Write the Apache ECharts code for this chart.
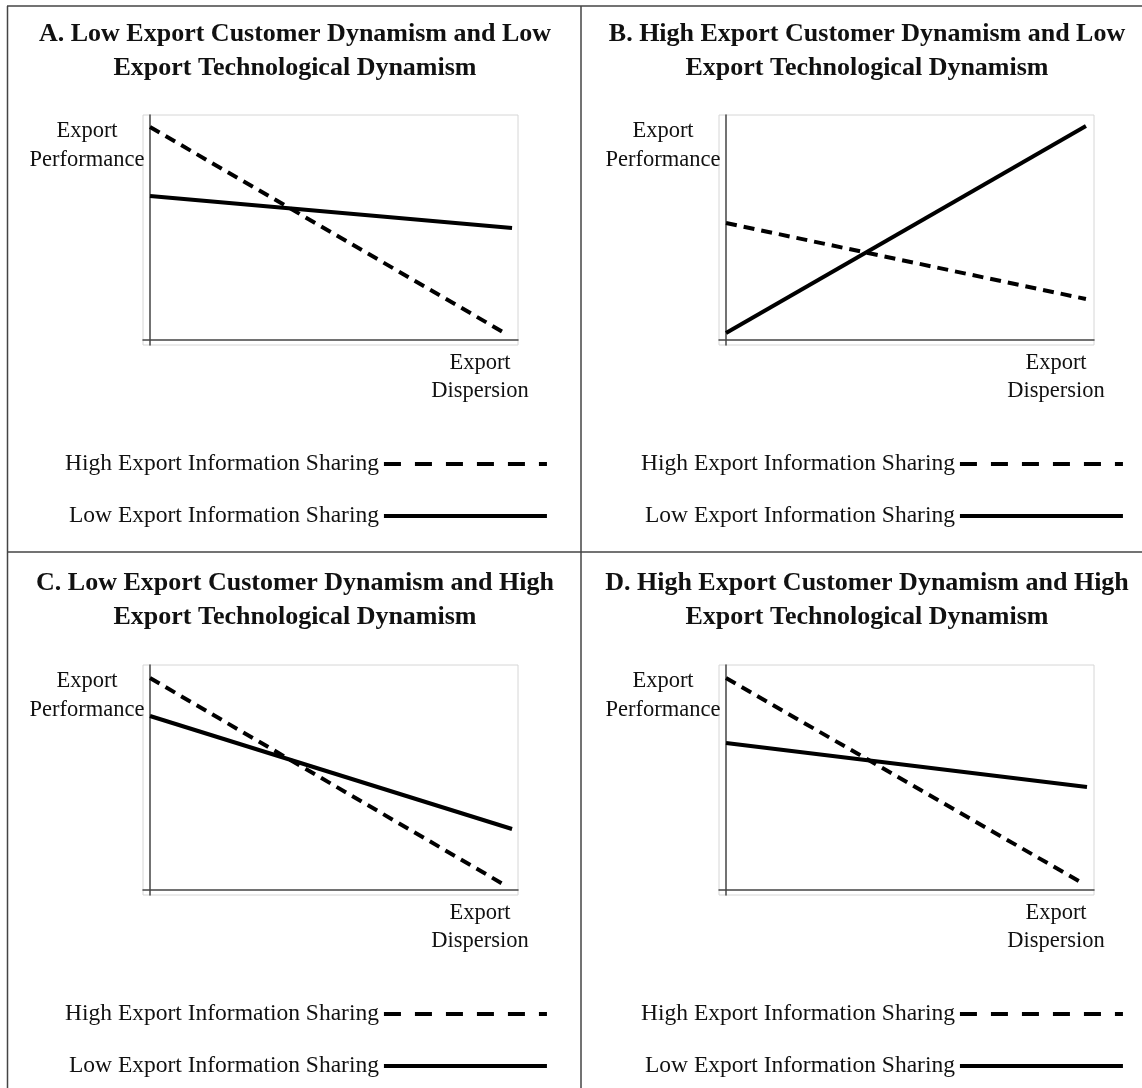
<!DOCTYPE html>
<html>
<head>
<meta charset="utf-8">
<script src="https://cdn.jsdelivr.net/npm/echarts@6/dist/echarts.min.js"></script>
<style>
  html, body { margin: 0; padding: 0; background: #fff; }
  #main { width: 1142px; height: 1088px; }
</style>
</head>
<body>
<div id="main"></div>
<script>
var titles = [
  "A. Low Export Customer Dynamism and Low\nExport Technological Dynamism",
  "B. High Export Customer Dynamism and Low\nExport Technological Dynamism",
  "C. Low Export Customer Dynamism and High\nExport Technological Dynamism",
  "D. High Export Customer Dynamism and High\nExport Technological Dynamism"
];
var seriesNames = ["High Export Information Sharing", "Low Export Information Sharing"];
var yName = "Export\nPerformance";
var xName = "Export\nDispersion";

// [x, y] end points of each line, in axis units
var highA = [[0, 8.52], [10.07, 0.32]];
var lowA = [[0, 5.76], [10.33, 4.48]];
var highB = [[0, 4.68], [10.27, 1.64]];
var lowB = [[0, 0.28], [10.27, 8.56]];
var highC = [[0, 8.48], [10.07, 0.24]];
var lowC = [[0, 6.96], [10.33, 2.44]];
var highD = [[0, 8.48], [10.21, 0.24]];
var lowD = [[0, 5.88], [10.3, 4.12]];

var highData = [highA, highB, highC, highD];
var lowData = [lowA, lowB, lowC, lowD];

var FONT = '"Liberation Serif", "Times New Roman", serif';
var chart = echarts.init(document.getElementById("main"));

// panel offsets
var offs = [[0, 0], [576, 0], [0, 550], [576, 550]];

var grid = [], xAxis = [], yAxis = [], series = [], legend = [], graphic = [];

offs.forEach(function (o, i) {
  var dx = o[0], dy = o[1];
  grid.push({
    left: 143 + dx, top: 115 + dy, width: 375, height: 230,
    show: true, borderColor: "#d6d6d6", borderWidth: 1, backgroundColor: "transparent"
  });
  xAxis.push({
    gridIndex: i, type: "value", min: -0.2, max: 10.5,
    axisLine: { show: true, onZero: true, lineStyle: { color: "#444", width: 1.5 } },
    axisTick: { show: false }, axisLabel: { show: false }, splitLine: { show: false }
  });
  yAxis.push({
    gridIndex: i, type: "value", min: -0.2, max: 9,
    axisLine: { show: true, onZero: true, lineStyle: { color: "#444", width: 1.5 } },
    axisTick: { show: false }, axisLabel: { show: false }, splitLine: { show: false }
  });
  series.push({
    name: seriesNames[0], type: "line", xAxisIndex: i, yAxisIndex: i,
    data: highData[i], showSymbol: false, symbol: "circle",
    lineStyle: { color: "#000", width: 4, type: [11, 7] }, silent: true
  });
  series.push({
    name: seriesNames[1], type: "line", xAxisIndex: i, yAxisIndex: i,
    data: lowData[i], showSymbol: false, symbol: "circle",
    lineStyle: { color: "#000", width: 4, type: "solid" }, silent: true
  });
  legend.push({
    orient: "vertical", align: "right", left: 65 + dx, top: 451 + dy,
    padding: 0, itemGap: 26, itemWidth: 163, itemHeight: 14,
    selectedMode: false,
    itemStyle: { opacity: 0 },
    textStyle: { fontFamily: FONT, fontSize: 23.5, color: "#111", lineHeight: 26 },
    data: [
      { name: seriesNames[0], lineStyle: { type: [17, 14], width: 4, color: "#000" } },
      { name: seriesNames[1], lineStyle: { width: 4, color: "#000" } }
    ]
  });
  graphic.push({
    type: "text", x: 295 + dx - (i % 2 ? 4 : 0), y: 51 + dy - (i >= 2 ? 1 : 0),
    style: { text: titles[i], font: "bold 26px " + FONT, fill: "#111",
      align: "center", verticalAlign: "middle", lineHeight: 34 }
  });
  graphic.push({
    type: "text", x: 87 + dx, y: 145.5 + dy,
    style: { text: yName, font: "22.5px " + FONT, fill: "#111",
      align: "center", verticalAlign: "middle", lineHeight: 29 }
  });
  graphic.push({
    type: "text", x: 480 + dx, y: 377 + dy,
    style: { text: xName, font: "22.5px " + FONT, fill: "#111",
      align: "center", verticalAlign: "middle", lineHeight: 28 }
  });
});

// panel frame
var frame = { stroke: "#444", lineWidth: 1.5 };
graphic.push({ type: "line", shape: { x1: 7, y1: 6, x2: 1142, y2: 6 }, style: frame });
graphic.push({ type: "line", shape: { x1: 7.5, y1: 6, x2: 7.5, y2: 1088 }, style: frame });
graphic.push({ type: "line", shape: { x1: 581, y1: 6, x2: 581, y2: 1088 }, style: frame });
graphic.push({ type: "line", shape: { x1: 7, y1: 552, x2: 1142, y2: 552 }, style: frame });

chart.setOption({
  backgroundColor: "#fff",
  animation: false,
  grid: grid,
  xAxis: xAxis,
  yAxis: yAxis,
  legend: legend,
  graphic: graphic,
  series: series
});
</script>
</body>
</html>
